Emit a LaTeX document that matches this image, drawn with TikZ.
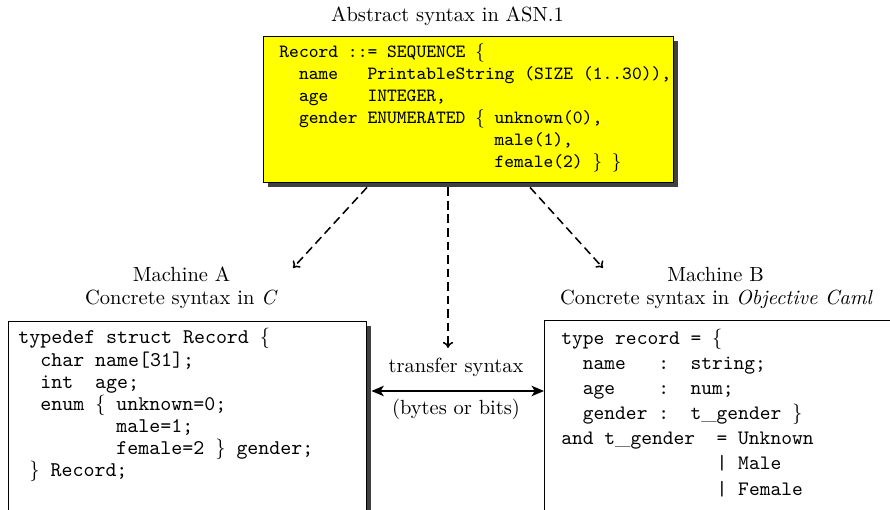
\documentclass[tikz,border=0pt]{standalone}
\usetikzlibrary{arrows.meta,calc,shadows}
\definecolor{shadowgray}{RGB}{64,64,64}
\definecolor{asnyellow}{RGB}{255,255,0}
\newcommand{\lowbar}{{\rmfamily\_}}
\tikzset{
  px/.style={x=0.4878pt,y=-0.4878pt},
  boxshadow/.style={drop shadow={shadow xshift=2.1pt,shadow yshift=-2pt,fill=shadowgray,opacity=1}},
  asnbox/.style={draw=black,line width=0.7pt,fill=asnyellow,anchor=north west,inner sep=0pt,boxshadow},
  codebox/.style={draw=black,line width=0.7pt,fill=white,anchor=north west,inner sep=0pt,boxshadow},
  lbl/.style={anchor=base,inner sep=0pt,font=\fontsize{10}{12}\selectfont},
  ycode/.style={anchor=base west,inner sep=0pt,font=\fontsize{9.1}{11}\selectfont\ttfamily},
  lcode/.style={anchor=base west,inner sep=0pt,font=\fontsize{10.2}{12}\selectfont\ttfamily},
  rcode/.style={anchor=base west,inner sep=0pt,font=\fontsize{10}{12}\selectfont\ttfamily},
  dasharrow/.style={line width=0.75pt,dash pattern=on 4.2pt off 2.4pt,-{To[length=3pt,width=5pt]}},
  transarrow/.style={line width=1.2pt,{Stealth[length=6pt,width=5pt,inset=1.5pt]}-{Stealth[length=6pt,width=5pt,inset=1.5pt]}}
}
\begin{document}
\begin{tikzpicture}[px]
\useasboundingbox (0,0) rectangle (890,510);
\clip (0,0) rectangle (890,510);
% title
\node[lbl] (title) at (447.5,22) {Abstract syntax in ASN.1};
% boxes
\node[asnbox,minimum width=200pt,minimum height=71.2pt] (asn) at (263,36) {};
\node[codebox,minimum width=174.6pt,minimum height=110pt] (cbox) at (8,321) {};
\node[codebox,minimum width=200pt,minimum height=110pt] (mbox) at (544,320) {};
% ASN.1 code
\node[ycode] (y1) at (279,58) {Record ::= SEQUENCE $\{$};
\node[ycode] (y2) at (279,80) {~~name~~~PrintableString (SIZE (1..30)),};
\node[ycode] (y3) at (279,101.5) {~~age~~~~INTEGER,};
\node[ycode] (y4) at (279,123.5) {~~gender ENUMERATED $\{$ unknown(0),};
\node[ycode] (y5) at (279,146) {\phantom{~~gender ENUMERATED $\{$ }male(1),};
\node[ycode] (y6) at (279,168) {\phantom{~~gender ENUMERATED $\{$ }female(2) $\}$ $\}$};
% machine labels
\node[lbl] (mA) at (181.5,282) {Machine A};
\node[lbl] (cA) at (181.5,305) {Concrete syntax in \textit{C}};
\node[lbl] (mB) at (715.5,282) {Machine B};
\node[lbl] (cB) at (716.5,305) {Concrete syntax in \textit{Objective Caml}};
% C code
\node[lcode] (a1) at (18,344) {typedef struct Record $\{$};
\node[lcode] (a2) at (18,366.5) {~~char name[31];};
\node[lcode] (a3) at (18,389) {~~int~~age;};
\node[lcode] (a4) at (18,411) {~~enum $\{$ unknown=0;};
\node[lcode] (a5) at (18,433) {\phantom{~~enum $\{$ }male=1;};
\node[lcode] (a6) at (18,454.5) {\phantom{~~enum $\{$ }female=2 $\}$ gender;};
\node[lcode] (a7) at (18,476.5) {~$\}$ Record;};
% OCaml code
\node[rcode] (b1) at (561,344.5) {type record = $\{$};
\node[rcode] (b2) at (561,369.5) {~~name~~~:~~string;};
\node[rcode] (b3) at (561,394.5) {~~age~~~~:~~num;};
\node[rcode] (b4) at (561,419.5) {~~gender :~~t\lowbar gender $\}$};
\node[rcode] (b5) at (561,445) {and t\lowbar gender~~= Unknown};
\node[rcode] (b6) at (561,470) {\phantom{and t\lowbar gender~~}| Male};
\node[rcode] (b7) at (561,495) {\phantom{and t\lowbar gender~~}| Female};
% transfer labels
\node[lbl] (ts) at (456,373) {transfer syntax};
\node[lbl] (bb) at (456,415) {(bytes or bits)};
% connectors
\coordinate (la) at (293,268);
\coordinate (ma) at (448,348);
\coordinate (ra) at (603,268);
\coordinate (tr) at (456,391);
\draw[dasharrow] ($(asn.south west)+(104,4)$) -- (la);
\draw[dasharrow] ($(asn.south west)+(185,4)$) -- (ma);
\draw[dasharrow] ($(asn.south west)+(267,4)$) -- (ra);
\draw[transarrow] ($(tr -| cbox.east)+(4,0)$) -- (tr -| mbox.west);
\end{tikzpicture}
\end{document}
